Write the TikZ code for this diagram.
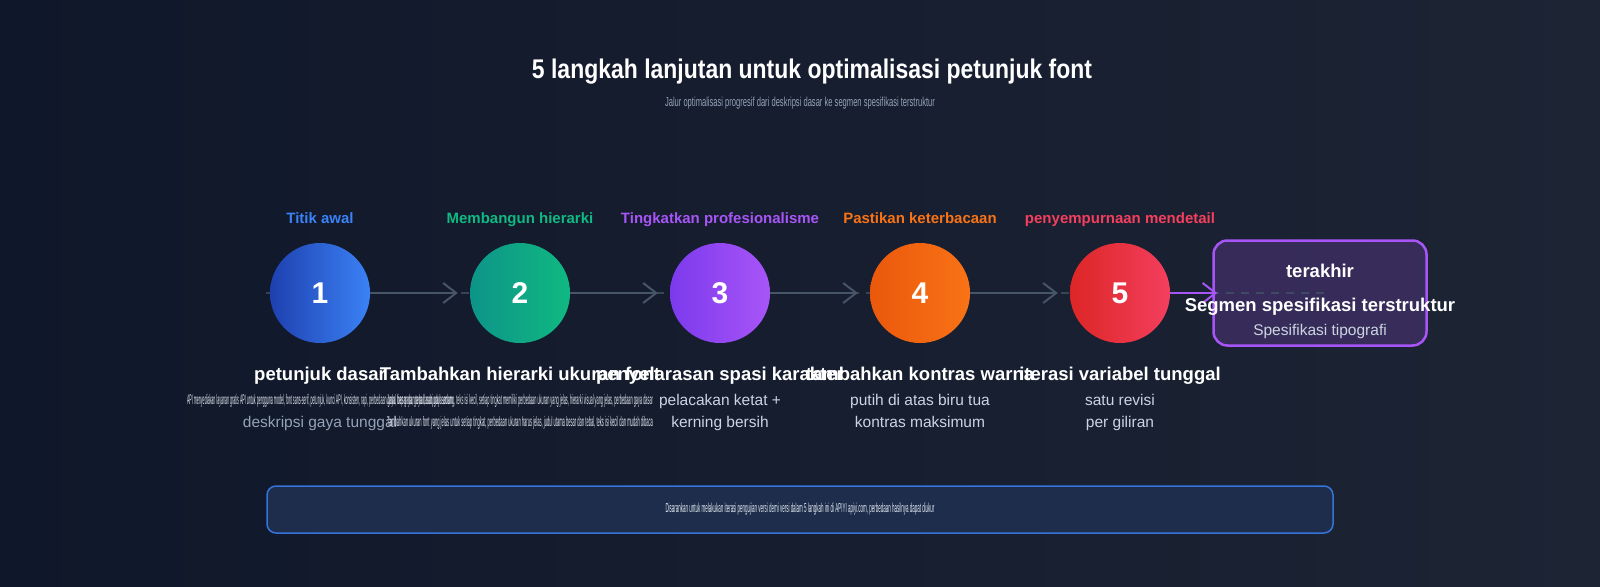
\documentclass[tikz,border=0pt]{standalone}
\usepackage{fontspec}
\setmainfont{Liberation Sans}
\usepackage{graphicx}
\usetikzlibrary{arrows.meta}

\definecolor{bgA}{HTML}{0F172A}
\definecolor{bgB}{HTML}{1D2434}
\definecolor{grayline}{HTML}{475569}
\definecolor{softtxt}{HTML}{CBD5E1}
\definecolor{brighttxt}{HTML}{E2E8F0}
\definecolor{mutetxt}{HTML}{94A3B8}
\definecolor{panel}{HTML}{1E2D4B}
\definecolor{blueA}{HTML}{1E40AF}\definecolor{blueB}{HTML}{3B82F6}
\definecolor{greenA}{HTML}{0D9488}\definecolor{greenB}{HTML}{10B981}
\definecolor{purpA}{HTML}{7C3AED}\definecolor{purpB}{HTML}{A855F7}
\definecolor{orngA}{HTML}{EA580C}\definecolor{orngB}{HTML}{F97316}
\definecolor{redA}{HTML}{DC2626}\definecolor{redB}{HTML}{F43F5E}

\newcommand{\fsz}[1]{\fontsize{#1}{#1}\selectfont}
\newcommand{\squeeze}[2]{\resizebox{#1}{\height}{#2}}

\begin{document}
\begin{tikzpicture}[x=1pt,y=-1pt,
  lbl/.style={font=\fsz{15}\bfseries, text height=11pt, text depth=3pt},
  num/.style={circle, minimum size=100pt, inner sep=0pt, text=white, font=\fsz{30}\bfseries},
  ttl/.style={text=white, font=\fsz{18.5}\bfseries, text height=13pt, text depth=4pt, inner sep=0pt},
  dsc/.style={text=softtxt, font=\fsz{15.5}, text height=11.5pt, text depth=3.5pt, inner sep=0pt},
  sqz/.style={text=brighttxt, font=\fsz{14}, inner sep=0pt},
  dashline/.style={draw=grayline, line width=2pt, dash pattern=on 8pt off 7pt, draw opacity=0.7},
  flow/.style={draw=grayline, line width=2pt, -{Straight Barb[length=13pt,width=20pt]}, shorten >=12pt}]
 \useasboundingbox (0,0) rectangle (1600,586);
 \fill[left color=bgA, right color=bgB] (0,0) rectangle (1600,586);

 \node[text=white, font=\fsz{27}\bfseries] (title) at (812,72)
  {\squeeze{560pt}{5 langkah lanjutan untuk optimalisasi petunjuk font}};
 \node[text=mutetxt, font=\fsz{13}] (subtitle) at (800,103)
  {\squeeze{270pt}{Jalur optimalisasi progresif dari deskripsi dasar ke segmen spesifikasi terstruktur}};

 \node[draw=purpB, line width=2.5pt, fill=purpB, fill opacity=0.2, rounded corners=14pt,
  minimum width=213pt, minimum height=105pt] (fin) at (1320,293) {};
 \coordinate (dstart) at (266,293);
 \coordinate (dend) at (1330,293);
 \draw[dashline] (dstart) -- (dend);

 \foreach \i/\x/\ca/\cb/\lab/\ttl in {
   1/320/blueA/blueB/{Titik awal}/{petunjuk dasar},
   2/520/greenA/greenB/{Membangun hierarki}/{Tambahkan hierarki ukuran font},
   3/720/purpA/purpB/{Tingkatkan profesionalisme}/{penyelarasan spasi karakter},
   4/920/orngA/orngB/{Pastikan keterbacaan}/{tambahkan kontras warna},
   5/1120/redA/redB/{penyempurnaan mendetail}/{iterasi variabel tunggal}}
 {
  \node[lbl, text=\cb] (l\i) at (\x,219) {\lab};
  \node[num, left color=\ca, right color=\cb] (c\i) at (\x,293) {\i};
  \node[ttl] (t\i) at (\x,376) {\ttl};
 }

 \foreach \a/\b in {1/2,2/3,3/4,4/5}
  \draw[flow] (c\a) -- (c\b);
 \draw[flow, draw=purpB, shorten >=0pt] (c5) -- ([xshift=5pt]fin.west);

 \node[ttl] (fin1) at (1320,273) {terakhir};
 \node[ttl] (fin2) at (1320,307) {Segmen spesifikasi terstruktur};
 \node[dsc] (fin3) at (1320,331) {Spesifikasi tipografi};

 \node[sqz] (d1a) at (320,401) {\squeeze{266pt}{API menyediakan layanan gratis API untuk pengguna model, font sans-serif, petunjuk, kunci API, konsisten, rapi, perbedaan gaya, tiap gaya, gaya dasar, gaya umum}};
 \node[dsc, text=mutetxt] (d1b) at (320,423) {deskripsi gaya tunggal};
 \node[sqz] (d2a) at (520,401) {\squeeze{266pt}{Judul besar dan tebal, subjudul sedang, teks isi kecil, setiap tingkat memiliki perbedaan ukuran yang jelas, hierarki visual yang jelas, perbedaan gaya dasar}};
 \node[sqz] (d2b) at (520,423) {\squeeze{266pt}{Tambahkan ukuran font yang jelas untuk setiap tingkat, perbedaan ukuran harus jelas, judul utama besar dan tebal, teks isi kecil dan mudah dibaca}};
 \node[dsc] (d3a) at (720,401) {pelacakan ketat +};
 \node[dsc] (d3b) at (720,423) {kerning bersih};
 \node[dsc] (d4a) at (920,401) {putih di atas biru tua};
 \node[dsc] (d4b) at (920,423) {kontras maksimum};
 \node[dsc] (d5a) at (1120,401) {satu revisi};
 \node[dsc] (d5b) at (1120,423) {per giliran};

 \node[draw=blueB, draw opacity=0.85, line width=1.5pt, fill=panel, rounded corners=9pt,
  minimum width=1066pt, minimum height=47pt, text=brighttxt, font=\fsz{13}] (note) at (800,509.5)
  {\squeeze{269pt}{Disarankan untuk melakukan iterasi pengujian versi demi versi dalam 5 langkah ini di APIYI apiyi.com, perbedaan hasilnya dapat diukur}};
\end{tikzpicture}
\end{document}
